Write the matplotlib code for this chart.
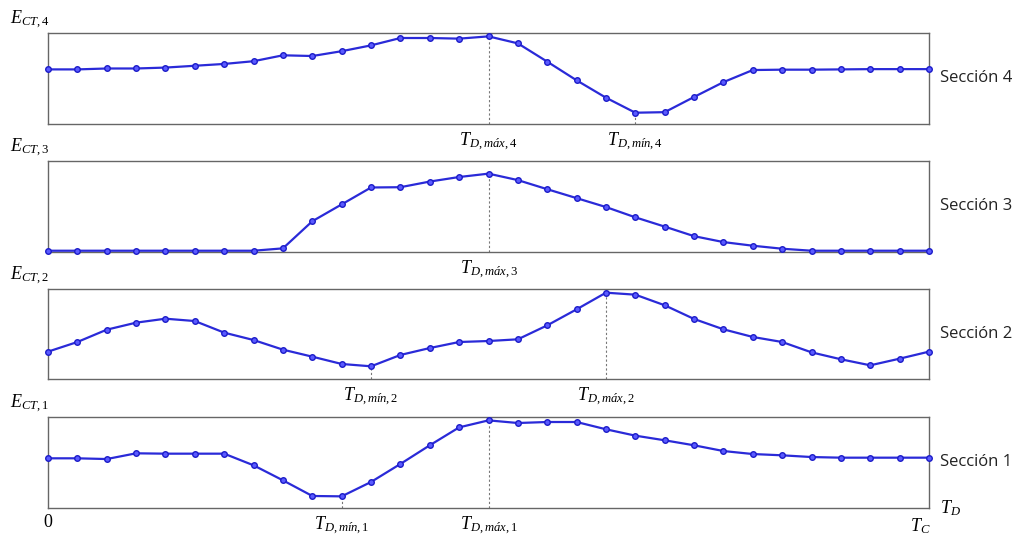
import matplotlib
matplotlib.use("Agg")
import matplotlib.pyplot as plt
import matplotlib.transforms as mtrans

plt.rcParams['mathtext.fontset'] = 'custom'
plt.rcParams['mathtext.it'] = 'Liberation Serif:italic'
plt.rcParams['mathtext.rm'] = 'Liberation Serif'
plt.rcParams['mathtext.default'] = 'it'

t = list(range(31))

s4 = [0.60, 0.60, 0.61, 0.61, 0.62, 0.64, 0.66, 0.69, 0.755, 0.747, 0.80, 0.864, 0.945, 0.945, 0.938,
      0.963, 0.886, 0.685, 0.48, 0.289, 0.124, 0.13, 0.297, 0.46, 0.593, 0.597, 0.597, 0.60, 0.603, 0.603, 0.603]
s3 = [0.014, 0.014, 0.014, 0.014, 0.014, 0.014, 0.014, 0.014, 0.04, 0.338, 0.523, 0.709, 0.712, 0.774, 0.824,
      0.861, 0.79, 0.69, 0.592, 0.494, 0.381, 0.279, 0.174, 0.109, 0.069, 0.036, 0.014, 0.014, 0.014, 0.014, 0.014]
s2 = [0.304, 0.411, 0.548, 0.626, 0.670, 0.644, 0.515, 0.433, 0.326, 0.248, 0.167, 0.141, 0.267, 0.344, 0.411,
      0.422, 0.441, 0.596, 0.774, 0.959, 0.937, 0.819, 0.667, 0.552, 0.467, 0.411, 0.296, 0.219, 0.152, 0.226, 0.304]
s1 = [0.546, 0.546, 0.538, 0.601, 0.597, 0.597, 0.597, 0.469, 0.304, 0.132, 0.128, 0.286, 0.484, 0.689, 0.886,
      0.963, 0.934, 0.945, 0.945, 0.865, 0.795, 0.744, 0.689, 0.626, 0.593, 0.579, 0.56, 0.553, 0.553, 0.553, 0.553]

series = [s4, s3, s2, s1]
section_names = ['Sección 4', 'Sección 3', 'Sección 2', 'Sección 1']
ylabels = [r'$E_{\mathit{CT,4}}$', r'$E_{\mathit{CT,3}}$', r'$E_{\mathit{CT,2}}$', r'$E_{\mathit{CT,1}}$']
marks = [
    [(15, r'$T_{\mathit{D,máx,4}}$'), (20, r'$T_{\mathit{D,mín,4}}$')],
    [(15, r'$T_{\mathit{D,máx,3}}$')],
    [(11, r'$T_{\mathit{D,mín,2}}$'), (19, r'$T_{\mathit{D,máx,2}}$')],
    [(10, r'$T_{\mathit{D,mín,1}}$'), (15, r'$T_{\mathit{D,máx,1}}$')],
]

W, H = 1019, 537
fig = plt.figure(figsize=(W / 100, H / 100), dpi=100)

left, right = 48, 929
panels_px = [(33, 124), (161, 252), (289, 379), (417, 508)]

line_color = '#2a2ad8'
for i, (top, bot) in enumerate(panels_px):
    ax = fig.add_axes([left / W, 1 - bot / H, (right - left) / W, (bot - top) / H])
    y = series[i]
    ax.plot(t, y, color=line_color, lw=1.6, marker='o', ms=4.0,
            mfc='#5a5aff', mec='#1c1cc8', mew=1.0, clip_on=False, zorder=3)
    ax.set_xlim(0, 30)
    ax.set_ylim(0, 1)
    ax.set_xticks([])
    ax.set_yticks([])
    for sp in ax.spines.values():
        sp.set_color('#666666')
        sp.set_linewidth(1.0)
    trans = mtrans.blended_transform_factory(ax.transData, ax.transAxes)
    for idx, lab in marks[i]:
        ax.plot([t[idx], t[idx]], [0, y[idx]], color='#777777', lw=0.8,
                ls=(0, (2, 2)), zorder=2)
        ax.text(t[idx], -0.2, lab, transform=trans, ha='center', va='center',
                fontsize=13)
    ax.text(-0.043, 1.14, ylabels[i], transform=ax.transAxes, ha='left',
            va='center', fontsize=13)
    ax.text(1.0125, 0.5, section_names[i], transform=ax.transAxes, ha='left',
            va='center', fontsize=12, family='Open Sans', color='#222222')
    if i == 3:
        ax.text(t[0], -0.16, '0', transform=trans, ha='center', va='center',
                fontsize=13, family='Liberation Serif')
        ax.text(t[-1] - 0.3, -0.2, r'$T_C$', transform=trans, ha='center',
                va='center', fontsize=13)
        ax.text(1.012, 0.0, r'$T_D$', transform=ax.transAxes, ha='left',
                va='center', fontsize=13)

fig.savefig('out.png', dpi=100)
